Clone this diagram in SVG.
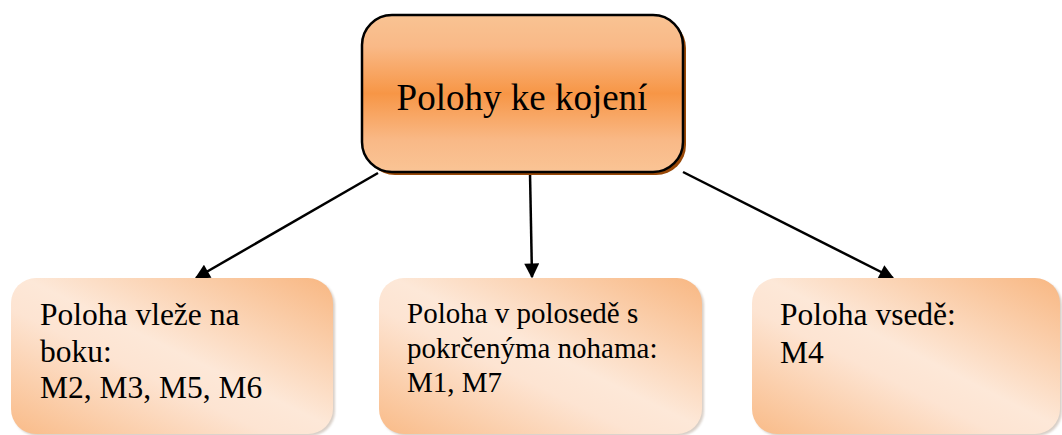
<svg xmlns="http://www.w3.org/2000/svg" width="1062" height="435" viewBox="0 0 1062 435">
  <style>
    .lbl { font-family: "Liberation Serif", "Times New Roman", serif; fill: #000; }
    .conn { stroke: #000; stroke-width: 2.5; fill: none; marker-end: url(#arrow); }
    .leaf { fill: url(#leafFill); }
    .leafShadow { fill: #b9a89a; opacity: 0.55; filter: url(#soft); }
  </style>
  <defs>
    <linearGradient id="rootFill" x1="0" y1="0" x2="0" y2="1">
      <stop offset="0" stop-color="#f9c393"/>
      <stop offset="0.2" stop-color="#f9b987"/>
      <stop offset="0.5" stop-color="#f79646"/>
      <stop offset="0.8" stop-color="#f9b987"/>
      <stop offset="1" stop-color="#fac495"/>
    </linearGradient>
    <linearGradient id="leafFill" x1="1" y1="0" x2="0" y2="1">
      <stop offset="0" stop-color="#f8b782"/>
      <stop offset="0.48" stop-color="#fde8d8"/>
      <stop offset="0.6" stop-color="#fde4d2"/>
      <stop offset="1" stop-color="#f9bb88"/>
    </linearGradient>
    <filter id="soft" x="-5%" y="-5%" width="110%" height="110%">
      <feGaussianBlur stdDeviation="1.2"/>
    </filter>
    <marker id="arrow" viewBox="0 0 10 10" refX="9" refY="5" markerWidth="6.5" markerHeight="6" markerUnits="strokeWidth" orient="auto">
      <path d="M0,0 L10,5 L0,10 z" fill="#000"/>
    </marker>
  </defs>

  <!-- connectors -->
  <g id="connectors">
    <line class="conn" x1="378" y1="173" x2="196" y2="278"/>
    <line class="conn" x1="530" y1="173" x2="532" y2="277"/>
    <line class="conn" x1="683" y1="172" x2="893" y2="278"/>
  </g>

  <!-- root node -->
  <g id="root">
    <rect x="365" y="18" width="321" height="157" rx="30" fill="#984807"/>
    <rect x="362" y="15" width="321" height="157" rx="30" fill="url(#rootFill)" stroke="#000" stroke-width="2.5"/>
    <text class="lbl" x="522" y="110" font-size="37" text-anchor="middle">Polohy ke kojení</text>
  </g>

  <!-- leaf: lying on the side -->
  <g id="side">
    <rect class="leafShadow" x="13" y="280" width="322" height="156" rx="25"/>
    <rect class="leaf" x="11" y="278" width="322" height="156" rx="25"/>
    <text class="lbl" font-size="31.5">
      <tspan x="40" y="325">Poloha vleže na</tspan>
      <tspan x="40" y="362">boku:</tspan>
      <tspan x="40" y="398">M2, M3, M5, M6</tspan>
    </text>
  </g>

  <!-- leaf: semi-sitting -->
  <g id="semisitting">
    <rect class="leafShadow" x="381" y="280" width="323" height="156" rx="25"/>
    <rect class="leaf" x="379" y="278" width="323" height="156" rx="25"/>
    <text class="lbl" font-size="29">
      <tspan x="407" y="323">Poloha v polosedě s</tspan>
      <tspan x="407" y="358">pokrčenýma nohama:</tspan>
      <tspan x="407" y="392">M1, M7</tspan>
    </text>
  </g>

  <!-- leaf: sitting -->
  <g id="sitting">
    <rect class="leafShadow" x="754" y="280" width="308" height="156" rx="25"/>
    <rect class="leaf" x="752" y="278" width="308" height="156" rx="25"/>
    <text class="lbl" font-size="31.5">
      <tspan x="780" y="325">Poloha vsedě:</tspan>
      <tspan x="780" y="363">M4</tspan>
    </text>
  </g>
</svg>
